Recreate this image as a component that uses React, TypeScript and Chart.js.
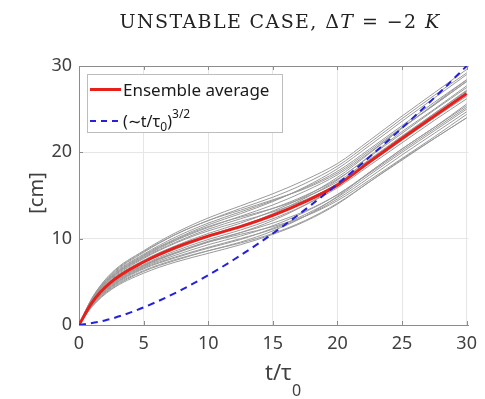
import React, { useEffect, useRef } from "react";
import { Chart, registerables } from "chart.js";

Chart.register(...registerables);

const tPoints = [0, 1, 2.5, 5, 7.5, 10, 12.5, 15, 17.5, 20, 22.5, 25, 27.5, 30];

const ensembleAverage = [0, 2.6, 5.0, 7.3, 9.0, 10.3, 11.4, 12.7, 14.3, 16.2, 18.9, 21.6, 24.2, 26.8];

const members: number[][] = [
  [0, 3.1, 6.0, 8.6, 10.7, 12.4, 13.8, 15.2, 16.8, 18.7, 21.4, 24.2, 26.9, 29.6],
  [0, 3.0, 5.8, 8.4, 10.5, 12.1, 13.5, 14.8, 16.4, 18.4, 21.1, 23.9, 26.6, 29.2],
  [0, 3.0, 5.7, 8.2, 10.2, 11.8, 13.1, 14.4, 15.9, 17.8, 20.4, 23.1, 25.8, 28.4],
  [0, 2.9, 5.6, 8.1, 10.0, 11.6, 12.9, 14.3, 16.0, 18.1, 20.8, 23.6, 26.3, 29.0],
  [0, 2.9, 5.5, 7.9, 9.8, 11.3, 12.6, 13.9, 15.5, 17.4, 20.0, 22.8, 25.5, 28.2],
  [0, 2.8, 5.4, 7.8, 9.6, 11.1, 12.3, 13.5, 15.0, 16.9, 19.5, 22.2, 24.9, 27.5],
  [0, 2.8, 5.3, 7.7, 9.5, 10.9, 12.0, 13.1, 14.5, 16.3, 18.8, 21.4, 24.0, 26.5],
  [0, 2.7, 5.2, 7.5, 9.2, 10.6, 11.8, 13.2, 14.9, 17.1, 19.9, 22.8, 25.6, 28.4],
  [0, 2.6, 5.1, 7.4, 9.1, 10.4, 11.5, 12.8, 14.4, 16.4, 19.1, 21.8, 24.5, 27.2],
  [0, 2.6, 4.9, 7.2, 8.8, 10.2, 11.4, 12.9, 14.7, 16.8, 19.6, 22.4, 25.0, 27.7],
  [0, 2.5, 4.8, 7.0, 8.6, 9.9, 11.0, 12.3, 13.9, 15.9, 18.5, 21.1, 23.7, 26.2],
  [0, 2.5, 4.7, 6.9, 8.4, 9.7, 10.7, 11.8, 13.2, 15.1, 17.6, 20.2, 22.7, 25.2],
  [0, 2.4, 4.6, 6.8, 8.3, 9.6, 10.7, 12.1, 13.9, 16.1, 18.9, 21.7, 24.3, 27.0],
  [0, 2.4, 4.5, 6.7, 8.1, 9.3, 10.3, 11.5, 13.1, 15.1, 17.7, 20.4, 22.9, 25.4],
  [0, 2.3, 4.5, 6.6, 7.9, 9.0, 10.0, 11.1, 12.6, 14.6, 17.1, 19.7, 22.2, 24.7],
  [0, 2.3, 4.4, 6.5, 7.8, 8.9, 9.9, 11.2, 12.8, 14.8, 17.4, 20.0, 22.5, 25.0],
  [0, 2.2, 4.3, 6.3, 7.6, 8.6, 9.5, 10.6, 12.1, 14.1, 16.6, 19.2, 21.6, 24.0],
  [0, 2.2, 4.2, 6.2, 7.5, 8.6, 9.6, 10.9, 12.6, 14.9, 17.7, 20.4, 22.9, 25.6],
  [0, 2.1, 4.1, 6.0, 7.3, 8.3, 9.3, 10.5, 12.0, 14.0, 16.6, 19.1, 21.6, 24.0],
  [0, 2.9, 5.5, 8.0, 9.9, 11.4, 12.5, 13.5, 14.8, 16.6, 19.2, 21.9, 24.5, 27.1],
  [0, 3.1, 5.9, 8.5, 10.5, 12.1, 13.3, 14.5, 15.8, 17.6, 20.2, 22.9, 25.5, 28.2],
  [0, 2.5, 4.7, 6.9, 8.4, 9.6, 10.5, 11.4, 12.6, 14.4, 16.8, 19.3, 21.8, 24.4],
];

const tPower = [0, 2, 4, 6, 8, 10, 12, 14, 16, 18, 20, 22, 24, 26, 28, 30];
const powerLaw = [0, 0.52, 1.46, 2.68, 4.13, 5.77, 7.59, 9.56, 11.68, 13.94, 16.33, 18.84, 21.47, 24.2, 27.05, 30];

const xTicks = [0, 5, 10, 15, 20, 25, 30];
const yTicks = [0, 10, 20, 30];

const AXIS_COLOR = "#8c8c8c";
const TEXT_COLOR = "#404040";

const textPlugin = {
  id: "customText",
  beforeDatasetsDraw(chart: any) {
    const ctx = chart.ctx as CanvasRenderingContext2D;
    const { left, right, top, bottom } = chart.chartArea;
    const xs = chart.scales.x;
    const ys = chart.scales.y;
    ctx.save();
    ctx.strokeStyle = AXIS_COLOR;
    ctx.lineWidth = 1;
    ctx.beginPath();
    ctx.moveTo(left, top + 0.5);
    ctx.lineTo(right, top + 0.5);
    for (const v of xTicks) {
      const px = Math.round(xs.getPixelForValue(v)) + 0.5;
      ctx.moveTo(px, bottom);
      ctx.lineTo(px, bottom - 4);
      ctx.moveTo(px, top);
      ctx.lineTo(px, top + 4);
    }
    for (const v of yTicks) {
      const py = Math.round(ys.getPixelForValue(v)) + 0.5;
      ctx.moveTo(left, py);
      ctx.lineTo(left + 4, py);
    }
    ctx.stroke();
    ctx.restore();
  },
  afterDraw(chart: any) {
    const ctx = chart.ctx as CanvasRenderingContext2D;
    ctx.save();

    // Title
    const serif = "'DejaVu Serif', 'Liberation Serif', serif";
    const segs: [string, boolean][] = [
      ["UNSTABLE CASE, ", false],
      ["\u0394", false],
      ["T", true],
      [" = ", false],
      ["\u22122 ", false],
      ["K", true],
    ];
    const size = 19;
    (ctx as any).letterSpacing = "1.4px";
    let total = 0;
    for (const [s, it] of segs) {
      ctx.font = `${it ? "italic " : ""}${size}px ${serif}`;
      total += ctx.measureText(s).width;
    }
    let x = 280 - total / 2;
    ctx.fillStyle = "#222222";
    ctx.textBaseline = "alphabetic";
    ctx.textAlign = "left";
    for (const [s, it] of segs) {
      ctx.font = `${it ? "italic " : ""}${size}px ${serif}`;
      ctx.fillText(s, x, 28);
      x += ctx.measureText(s).width;
    }
    (ctx as any).letterSpacing = "0px";

    // Y label
    ctx.save();
    ctx.translate(37, 193);
    ctx.rotate(-Math.PI / 2);
    ctx.font = "20px 'Noto Sans'";
    ctx.fillStyle = TEXT_COLOR;
    ctx.textAlign = "center";
    ctx.textBaseline = "middle";
    ctx.fillText("[cm]", 0, 0);
    ctx.restore();

    // X label
    ctx.fillStyle = TEXT_COLOR;
    ctx.textAlign = "left";
    ctx.textBaseline = "alphabetic";
    ctx.font = "22px 'Noto Sans'";
    const main = "t/\u03c4";
    const mw = ctx.measureText(main).width;
    ctx.font = "16px 'Noto Sans'";
    const sw = ctx.measureText("0").width;
    const xl = 283 - (mw + sw) / 2;
    ctx.font = "22px 'Noto Sans'";
    ctx.fillText(main, xl, 380);
    ctx.font = "16px 'Noto Sans'";
    ctx.fillText("0", xl + mw, 396);

    // Legend
    const lx = 87, ly = 74, lw = 195, lh = 58;
    ctx.fillStyle = "#ffffff";
    ctx.fillRect(lx, ly, lw, lh);
    ctx.strokeStyle = "#bdbdbd";
    ctx.lineWidth = 1;
    ctx.strokeRect(lx + 0.5, ly + 0.5, lw, lh);

    ctx.strokeStyle = "#e8201c";
    ctx.lineWidth = 3;
    ctx.beginPath();
    ctx.moveTo(90, 89.5);
    ctx.lineTo(121, 89.5);
    ctx.stroke();

    ctx.strokeStyle = "#2222dd";
    ctx.lineWidth = 2;
    ctx.setLineDash([6, 5]);
    ctx.beginPath();
    ctx.moveTo(90, 121);
    ctx.lineTo(121, 121);
    ctx.stroke();
    ctx.setLineDash([]);

    ctx.fillStyle = "#1a1a1a";
    ctx.font = "17px 'Noto Sans'";
    ctx.fillText("Ensemble average", 123, 96);

    let tx = 123;
    const base2 = 127;
    ctx.font = "16px 'Noto Sans'";
    const p1 = "(\u223ct/\u03c4";
    ctx.fillText(p1, tx, base2);
    tx += ctx.measureText(p1).width;
    ctx.font = "12px 'Noto Sans'";
    ctx.fillText("0", tx, base2 + 4);
    tx += ctx.measureText("0").width;
    ctx.font = "16px 'Noto Sans'";
    ctx.fillText(")", tx, base2);
    tx += ctx.measureText(")").width;
    ctx.font = "12px 'Noto Sans'";
    ctx.fillText("3/2", tx, base2 - 9);

    ctx.restore();
  },
};

export default function App() {
  const canvasRef = useRef<HTMLCanvasElement | null>(null);

  useEffect(() => {
    const canvas = canvasRef.current;
    if (!canvas) return;

    const grayDatasets = members.map((m, i) => ({
      label: `member ${i + 1}`,
      data: tPoints.map((t, j) => ({ x: t, y: m[j] })),
      borderColor: "#9a9a9a",
      borderWidth: 1,
      pointRadius: 0,
      cubicInterpolationMode: "monotone" as const,
      fill: false,
      order: 3,
    }));

    const chart = new Chart(canvas, {
      type: "line",
      data: {
        datasets: [
          {
            label: "(~t/τ0)^3/2",
            data: tPower.map((t, j) => ({ x: t, y: powerLaw[j] })),
            borderColor: "#2222dd",
            borderWidth: 2,
            borderDash: [7, 5],
            pointRadius: 0,
            cubicInterpolationMode: "monotone",
            fill: false,
            order: 1,
          },
          {
            label: "Ensemble average",
            data: tPoints.map((t, j) => ({ x: t, y: ensembleAverage[j] })),
            borderColor: "#e8201c",
            borderWidth: 3,
            pointRadius: 0,
            cubicInterpolationMode: "monotone",
            fill: false,
            order: 2,
          },
          ...grayDatasets,
        ],
      },
      options: {
        responsive: false,
        animation: false,
        layout: { padding: { top: 66, right: 12, bottom: 0, left: 0 } },
        plugins: {
          legend: { display: false },
          title: { display: false },
          tooltip: { enabled: false },
        },
        scales: {
          x: {
            type: "linear",
            min: 0,
            max: 30.15,
            afterBuildTicks: (axis: any) => {
              axis.ticks = xTicks.map((v) => ({ value: v }));
            },
            afterFit: (axis: any) => {
              axis.height = 74;
            },
            grid: { color: "#e6e6e6", drawTicks: false },
            border: { color: AXIS_COLOR, width: 1 },
            ticks: {
              color: TEXT_COLOR,
              font: { family: "'Noto Sans'", size: 18 },
              padding: 8,
              maxRotation: 0,
            },
          },
          y: {
            type: "linear",
            min: 0,
            max: 30,
            afterBuildTicks: (axis: any) => {
              axis.ticks = yTicks.map((v) => ({ value: v }));
            },
            afterFit: (axis: any) => {
              axis.width = 79;
            },
            grid: { color: "#e6e6e6", drawTicks: false },
            border: { color: AXIS_COLOR, width: 1 },
            ticks: {
              color: TEXT_COLOR,
              font: { family: "'Noto Sans'", size: 18 },
              padding: 7,
            },
          },
        },
      },
      plugins: [textPlugin],
    });

    return () => chart.destroy();
  }, []);

  return (
    <div style={{ position: "fixed", left: 0, top: 0, width: 485, height: 399, background: "#ffffff" }}>
      <canvas ref={canvasRef} width={485} height={399} />
    </div>
  );
}
